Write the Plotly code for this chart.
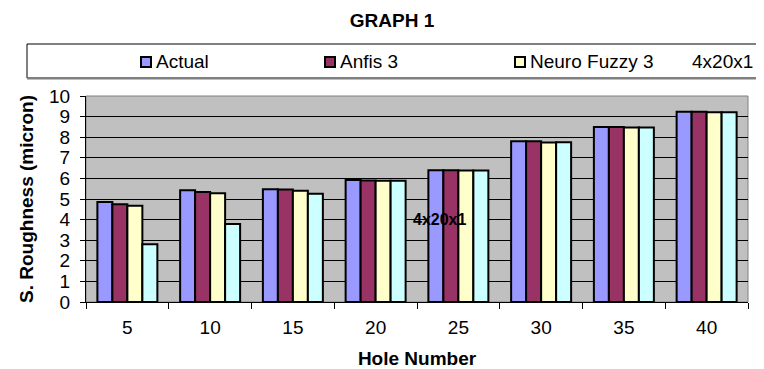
import plotly.graph_objects as go

categories = ["5", "10", "15", "20", "25", "30", "35", "40"]
series_names = ["Actual", "Anfis 3", "Neuro Fuzzy 3", "4x20x1"]
actual = [4.85, 5.42, 5.47, 5.92, 6.40, 7.80, 8.50, 9.24]
anfis3 = [4.74, 5.34, 5.46, 5.90, 6.40, 7.80, 8.50, 9.24]
neuro_fuzzy3 = [4.67, 5.28, 5.40, 5.88, 6.38, 7.74, 8.47, 9.21]
net_4x20x1 = [2.80, 3.79, 5.26, 5.88, 6.38, 7.76, 8.47, 9.21]
colors = ["#9999FF", "#993366", "#FFFFCC", "#CCFFFF"]

FONT = "Liberation Sans, Arial, sans-serif"

# The page body has an 8px default margin, so the figure is drawn 8px
# right/down of the window origin; compensate in the figure geometry.
OFF = 8
WIN_W, WIN_H = 764, 369
W, H = WIN_W - OFF, WIN_H - OFF
# plot-area geometry in window pixels
L, R, T, B = 86, 748, 96, 302


def px_x(px):
    return (px - L) / (R - L)


def px_y(py):
    return (B - py) / (B - T)


fig = go.Figure()
for name, vals, col in zip(series_names, [actual, anfis3, neuro_fuzzy3, net_4x20x1], colors):
    fig.add_trace(go.Bar(
        x=categories, y=vals, name=name, showlegend=False,
        marker=dict(color=col, line=dict(color="black", width=2)),
    ))

shapes = []
annotations = []

# legend frame
shapes.append(dict(type="rect", xref="paper", yref="paper",
                   x0=px_x(27), x1=px_x(780), y0=px_y(78), y1=px_y(44),
                   line=dict(color="black", width=1), fillcolor="white", layer="above"))
shapes.append(dict(type="line", xref="paper", yref="paper",
                   x0=px_x(27), x1=px_x(780), y0=px_y(78.5), y1=px_y(78.5),
                   line=dict(color="#808080", width=2), layer="above"))

# legend entries
legend_marker_left = [141, 325, 515]
for i, xl in enumerate(legend_marker_left):
    shapes.append(dict(type="rect", xref="paper", yref="paper",
                       x0=px_x(xl), x1=px_x(xl + 10), y0=px_y(67), y1=px_y(57),
                       fillcolor=colors[i], line=dict(color="black", width=2), layer="above"))
    annotations.append(dict(xref="paper", yref="paper", x=px_x(xl + 13), y=px_y(61.5),
                            text=series_names[i], showarrow=False, xanchor="left", yanchor="middle",
                            font=dict(family=FONT, size=19, color="black")))
annotations.append(dict(xref="paper", yref="paper", x=px_x(690), y=px_y(61.5),
                        text=series_names[3], showarrow=False, xanchor="left", yanchor="middle",
                        font=dict(family=FONT, size=19, color="black")))

# stray label in the plot area
annotations.append(dict(xref="paper", yref="paper", x=px_x(411), y=px_y(219),
                        text="<b>4x20x1</b>", showarrow=False, xanchor="left", yanchor="middle",
                        font=dict(family=FONT, size=16, color="black")))

# plot frame edge
shapes.append(dict(type="rect", xref="paper", yref="paper", x0=0, x1=1, y0=0, y1=1,
                   line=dict(color="#808080", width=1), layer="below"))

fig.update_layout(
    width=W, height=H,
    margin=dict(l=L - OFF, r=WIN_W - R, t=T - OFF, b=WIN_H - B),
    paper_bgcolor="white",
    plot_bgcolor="#C0C0C0",
    barmode="group",
    bargap=0.275,
    bargroupgap=0,
    showlegend=False,
    title=dict(text="<b>GRAPH 1</b>", x=(392 - OFF) / W, xref="container", xanchor="center",
               y=1 - (20 - OFF) / H, yref="container", yanchor="middle",
               font=dict(family=FONT, size=19, color="black")),
    font=dict(family=FONT, color="black"),
    shapes=shapes,
    annotations=annotations,
    xaxis=dict(
        type="category",
        automargin=False,
        tickson="boundaries",
        ticks="outside", ticklen=6, tickcolor="black", tickwidth=1,
        ticklabelstandoff=8,
        showline=True, linecolor="black", linewidth=1,
        showgrid=False,
        tickfont=dict(family=FONT, size=19, color="black"),
        title=dict(text="<b>Hole Number</b>", standoff=14,
                   font=dict(family=FONT, size=19, color="black")),
    ),
    yaxis=dict(
        range=[0, 10], dtick=1, tick0=0,
        automargin=False,
        ticks="outside", ticklen=5, tickcolor="black", tickwidth=1,
        ticklabelstandoff=6,
        showline=True, linecolor="black", linewidth=1,
        showgrid=True, gridcolor="black", gridwidth=1,
        zeroline=False,
        tickfont=dict(family=FONT, size=19, color="black"),
        title=dict(text="<b>S. Roughness (micron)</b>", standoff=10,
                   font=dict(family=FONT, size=19, color="black")),
    ),
)

fig.write_html("out.html")
